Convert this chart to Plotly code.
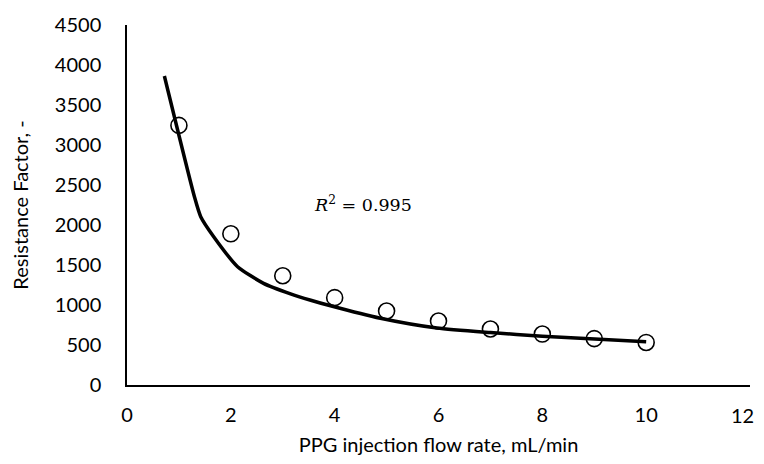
import plotly.graph_objects as go

# Measured data points
flow_rate = [1, 2, 3, 4, 5, 6, 7, 8, 9, 10]
resistance_factor = [3245, 1890, 1366, 1092, 925, 800, 700, 637, 580, 532]

# Fitted curve
fit_x = [0.72, 1.30, 1.42, 1.67, 2.13, 2.63, 3.15, 3.54, 3.92, 4.88, 5.97, 7.0, 8.0, 9.1, 10.0]
fit_y = [3862, 2350, 2104, 1854, 1479, 1271, 1140, 1060, 990, 834, 712, 655, 610, 571, 541]

x_ticks = [0, 2, 4, 6, 8, 10, 12]
y_ticks = [0, 500, 1000, 1500, 2000, 2500, 3000, 3500, 4000, 4500]

fig = go.Figure()
fig.add_trace(go.Scatter(
    x=fit_x, y=fit_y, mode="lines",
    line=dict(color="black", width=3.5, shape="spline", smoothing=0.6),
    showlegend=False, hoverinfo="skip"))
fig.add_trace(go.Scatter(
    x=flow_rate, y=resistance_factor, mode="markers",
    marker=dict(symbol="circle-open", size=16, color="black", line=dict(width=1.6, color="black")),
    showlegend=False))

fig.add_annotation(
    x=4.55, y=2260, xref="x", yref="y",
    text="<i>R</i><sup>2</sup> = 0.995", showarrow=False,
    font=dict(family="DejaVu Serif", size=17.5, color="black"))

axis_font = dict(family="Lato", size=20, color="black")

# last x tick label drawn as annotation so it stays inside the visible page edge
fig.add_annotation(
    x=x_ticks[-1], y=0, xref="x", yref="paper",
    text=str(x_ticks[-1]), showarrow=False,
    xanchor="right", yanchor="middle", xshift=6, yshift=-30,
    font=axis_font)

fig.update_layout(
    width=756, height=448,
    margin=dict(l=118.5, r=14, t=17, b=71),
    paper_bgcolor="white", plot_bgcolor="white",
    font=axis_font,
    xaxis=dict(
        range=[0, 12], tickvals=x_ticks[:-1], showgrid=False, zeroline=False,
        showline=True, linecolor="black", linewidth=1.5,
        ticks="outside", ticklen=11, tickcolor="rgba(0,0,0,0)",
        tickfont=axis_font,
        title=dict(text="PPG injection flow rate, mL/min", font=axis_font, standoff=21),
        automargin=False),
    yaxis=dict(
        range=[0, 4500], tickvals=y_ticks, showgrid=False, zeroline=False,
        showline=True, linecolor="black", linewidth=1.5,
        ticks="outside", ticklen=20, tickcolor="rgba(0,0,0,0)",
        tickfont=axis_font,
        title=dict(text="Resistance Factor, -", font=axis_font, standoff=21),
        automargin=False),
)

fig.write_html("out.html")
